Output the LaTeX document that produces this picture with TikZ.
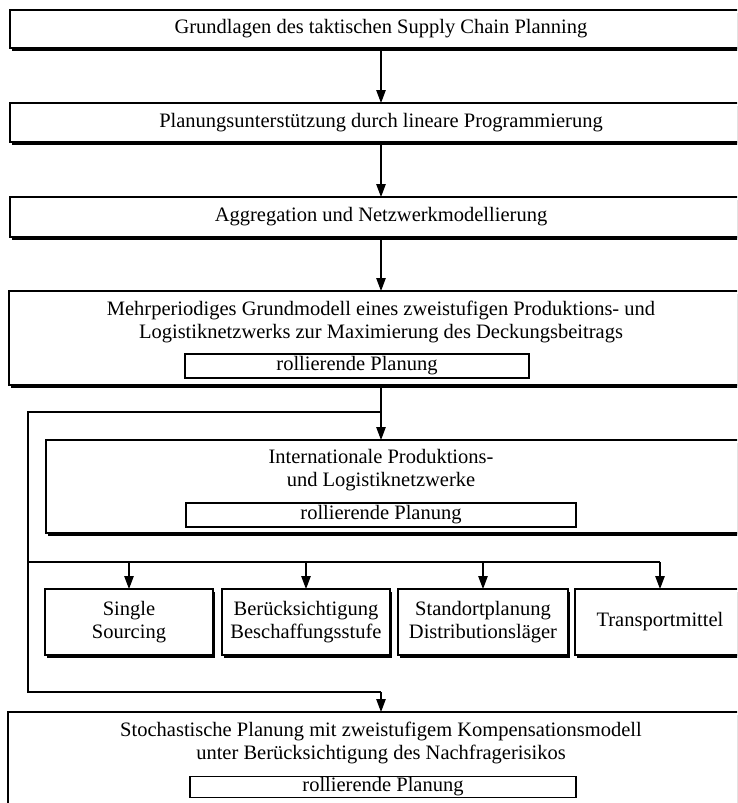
\documentclass[tikz,border=0pt]{standalone}
\usepackage{fontspec}
\setmainfont{Liberation Serif}
\usetikzlibrary{arrows.meta,shadows}
\begin{document}
\begin{tikzpicture}[x=1pt,y=-1pt,
  every node/.style={inner sep=0pt, outer sep=0pt},
  txt/.style={font=\fontsize{20.5}{23}\selectfont, align=center},
  panel/.style={draw, line width=1.1pt, fill=white,
    drop shadow={shadow xshift=2pt, shadow yshift=-2.5pt, opacity=1, fill=black}},
  tag/.style={draw, line width=1.1pt, fill=white, txt},
  wire/.style={line width=1.1pt},
  arr/.style={wire, -{Triangle[length=13pt,width=9.5pt]}}]
\useasboundingbox (0,0) rectangle (737,803);
\fill[white] (0,0) rectangle (737,803);
\clip (0,0) rectangle (737,803);

% main stages
\node[panel, minimum width=742pt, minimum height=38pt] (b1) at (381,29) {};
\node[txt] (t1) at (381,29) {Grundlagen des taktischen Supply Chain Planning};

\node[panel, minimum width=742pt, minimum height=39pt] (b2) at (381,122.5) {};
\node[txt] (t2) at (381,122.5) {Planungsunterstützung durch lineare Programmierung};

\node[panel, minimum width=742pt, minimum height=40pt] (b3) at (381,217) {};
\node[txt] (t3) at (381,217) {Aggregation und Netzwerkmodellierung};

\node[panel, minimum width=744pt, minimum height=94pt] (b4) at (381,338) {};
\node[txt] (t4) at (381,321.5) {Mehrperiodiges Grundmodell eines zweistufigen Produktions- und\\Logistiknetzwerks zur Maximierung des Deckungsbeitrags};
\node[tag, minimum width=344pt, minimum height=24pt] (r4) at (357,366) {rollierende Planung};

\node[panel, minimum width=714pt, minimum height=93pt] (b5) at (403,486.5) {};
\node[txt] (t5) at (381,470.5) {Internationale Produktions-\\und Logistiknetzwerke};
\node[tag, minimum width=390pt, minimum height=24pt] (r5) at (381,515) {rollierende Planung};

% extensions
\node[panel, txt, minimum width=168pt, minimum height=66pt] (s1) at (129,622) {Single\\Sourcing};
\node[panel, txt, minimum width=168pt, minimum height=66pt] (s2) at (306,622) {Berücksichtigung\\Beschaffungsstufe};
\node[panel, txt, minimum width=170pt, minimum height=66pt] (s3) at (483,622) {Standortplanung\\Distributionsläger};
\node[panel, txt, minimum width=170pt, minimum height=66pt] (s4) at (660,622) {Transportmittel};

\node[panel, minimum width=746pt, minimum height=118pt] (b7) at (381,771) {};
\node[txt] (t7) at (381,742.5) {Stochastische Planung mit zweistufigem Kompensationsmodell\\unter Berücksichtigung des Nachfragerisikos};
\node[tag, minimum width=386pt, minimum height=21pt] (r7) at (383,787) {rollierende Planung};

% flow
\draw[arr] (b1.south) -- (b2.north);
\draw[arr] (b2.south) -- (b3.north);
\draw[arr] (b3.south) -- (b4.north);
\draw[arr] (b4.south) -- (b4.south |- b5.north);

\coordinate (j1) at (381,412);
\coordinate (lc) at (28,412);
\coordinate (bc) at (28,692);
\coordinate (j2) at (381,692);
\coordinate (br) at (28,562);
\draw[wire] (j1) -- (lc) -- (bc) -- (j2);
\draw[arr] (j2) -- (j2 |- b7.north);
\draw[wire] (br) -- (br -| s4.north);
\foreach \s in {s1,s2,s3,s4}
  \draw[arr] (br -| \s.north) -- (\s.north);
\end{tikzpicture}
\end{document}
